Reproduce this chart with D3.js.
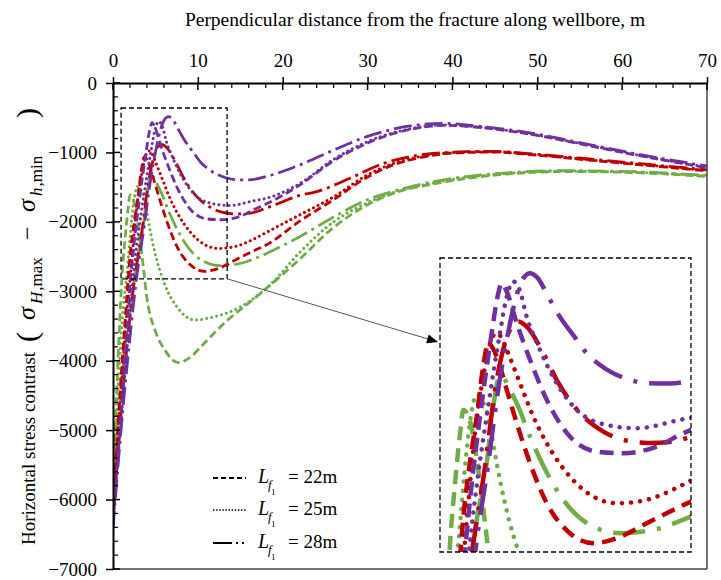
<!DOCTYPE html>
<html><head><meta charset="utf-8">
<script src="https://cdn.jsdelivr.net/npm/d3@7"></script>
<style>
body{margin:0;background:#fff}
text{font-family:"Liberation Serif","Times New Roman",serif;fill:#000}
</style>
</head><body>
<svg id="c" width="721" height="580"></svg>
<script>
// ---------- data ----------
const xTicks = [0,10,20,30,40,50,60,70];
const yTicks = [0,-1000,-2000,-3000,-4000,-5000,-6000,-7000];
const legendLabels = ["22m","25m","28m"];
const colorPurple = "#7030A0", colorRed = "#C00000", colorGreen = "#70AD47";

// purple, Lf1 = 22m (dashed)
const P22 = [[0,-6300],[0.5,-5500],[1,-4700],[1.5,-3800],[2,-2950],[2.5,-2300],[3.13,-1668],[3.92,-980],[4.3,-690],[4.6,-570],[4.95,-640],[5.62,-898],[6.52,-1200],[7.65,-1530],[9.22,-1833],[11.03,-1957],[12.83,-1970],[15.1,-1915],[16.67,-1819],[18.1,-1740],[22,-1470],[26,-1120],[29.9,-870],[35,-670],[39,-610],[43.6,-645],[49.5,-745],[55.4,-885],[61.3,-1030],[70,-1220]];
// purple, 25m (dotted)
const P25 = [[0,-6350],[0.6,-5400],[1.2,-4500],[1.8,-3600],[2.45,-2713],[3,-2150],[3.58,-1668],[4.48,-980],[4.9,-700],[5.39,-554],[5.8,-620],[6.29,-843],[7.19,-1118],[8.32,-1393],[9.68,-1613],[11.71,-1737],[13.74,-1764],[16.67,-1695],[18.1,-1660],[22,-1450],[26,-1100],[29.9,-850],[35,-660],[39,-605],[43.6,-640],[49.5,-740],[55.4,-880],[61.3,-1025],[70,-1215]];
// purple, 28m (dash-dot)
const P28 = [[0,-6420],[0.6,-5500],[1.2,-4650],[1.8,-3900],[2.4,-3200],[2.91,-2685],[3.69,-2053],[4.26,-1530],[5.16,-900],[5.72,-623],[6.1,-520],[6.52,-485],[7,-520],[7.75,-678],[8.32,-802],[9.68,-1035],[10.35,-1145],[11.26,-1242],[13.29,-1365],[14.5,-1393],[16,-1395],[18.7,-1325],[22,-1181],[26,-965],[29.9,-773],[35,-619],[38.9,-581],[43.6,-629],[49.5,-725],[55.4,-869],[61.3,-1013],[70,-1195]];
// red
const R22 = [[0,-6100],[0.5,-5100],[1,-4150],[1.5,-3300],[2,-2500],[2.5,-2000],[2.91,-1668],[3.35,-1250],[3.69,-1063],[4.26,-1173],[4.94,-1448],[5.62,-1723],[6.52,-2053],[7.65,-2383],[9.22,-2630],[10.8,-2713],[12.39,-2672],[14.42,-2548],[16.67,-2411],[18.1,-2330],[22,-1990],[26,-1680],[29.9,-1360],[33,-1180],[36,-1080],[41.7,-1000],[45,-995],[49.5,-1035],[57.4,-1125],[70,-1265]];
const R25 = [[0,-6150],[0.5,-5200],[1,-4300],[1.5,-3500],[2,-2850],[2.79,-1805],[3.47,-1255],[3.9,-1030],[4.26,-980],[4.6,-1020],[4.94,-1118],[5.84,-1393],[6.74,-1668],[7.65,-1888],[9.22,-2163],[10.8,-2328],[12.4,-2383],[14.4,-2355],[16.4,-2259],[18.1,-2150],[22,-1900],[26,-1640],[29.9,-1330],[33,-1160],[36,-1065],[41.7,-995],[45,-990],[49.5,-1030],[57.4,-1120],[70,-1260]];
const R28 = [[0,-6250],[0.6,-5300],[1.2,-4400],[1.8,-3600],[2.3,-3050],[2.68,-2713],[3.47,-2081],[4.15,-1448],[4.82,-1063],[5.28,-926],[5.72,-884],[6.29,-926],[7.42,-1145],[8.32,-1365],[9.9,-1640],[11.48,-1792],[12.83,-1860],[14.5,-1885],[16.2,-1874],[18.1,-1800],[22,-1620],[24,-1565],[28,-1368],[31.9,-1157],[36,-1040],[41.7,-989],[45,-985],[49.5,-1022],[57.4,-1109],[70,-1250]];
// green
const G22 = [[0,-5850],[0.3,-4900],[0.6,-3950],[0.9,-3150],[1.1,-2713],[1.44,-2218],[1.78,-1805],[2,-1613],[2.3,-1650],[2.68,-1833],[3.13,-2218],[3.58,-2658],[4,-3100],[4.95,-3560],[6.1,-3845],[7.7,-4028],[9,-3960],[10.5,-3780],[13,-3470],[16.7,-3100],[21.8,-2560],[26,-2080],[29.9,-1760],[33,-1590],[37.7,-1455],[45.6,-1320],[53.4,-1275],[61.3,-1290],[70,-1345]];
const G25 = [[0,-5950],[0.4,-4900],[0.8,-3950],[1.2,-3250],[1.66,-2713],[2.23,-1943],[2.6,-1600],[2.91,-1489],[3.3,-1540],[3.69,-1668],[4.26,-2053],[4.82,-2383],[6.1,-2900],[7.7,-3250],[9.6,-3413],[12,-3365],[14.8,-3240],[18.7,-2885],[22,-2440],[26,-2000],[29.9,-1730],[33,-1580],[37.7,-1440],[45.6,-1310],[53.4,-1270],[61.3,-1285],[70,-1340]];
const G28 = [[0,-6050],[0.5,-5100],[1,-4350],[1.6,-3650],[2.2,-3100],[2.8,-2600],[3.3,-2250],[3.58,-2053],[4.03,-1586],[4.48,-1324],[4.8,-1360],[5.05,-1420],[5.72,-1586],[6.52,-1833],[8.77,-2355],[10.58,-2562],[12.61,-2630],[15.32,-2589],[16.56,-2535],[22,-2213],[26,-1930],[29.9,-1685],[33,-1560],[37.7,-1421],[45.6,-1301],[53.4,-1263],[61.3,-1277],[70,-1330]];

// zoom-window (source rectangle in main chart) and inset ranges
const zoomBoxX = [0.95, 13.45], zoomBoxY = [-360, -2820];
const insetX = [0.42, 17.42], insetY = [-360, -2785];

const series = [
  {data:G22, color:colorGreen, style:"dash"},
  {data:G25, color:colorGreen, style:"dot"},
  {data:G28, color:colorGreen, style:"dashdot"},
  {data:R22, color:colorRed, style:"dash"},
  {data:R25, color:colorRed, style:"dot"},
  {data:R28, color:colorRed, style:"dashdot"},
  {data:P22, color:colorPurple, style:"dash"},
  {data:P25, color:colorPurple, style:"dot"},
  {data:P28, color:colorPurple, style:"dashdot"}
];

// ---------- drawing ----------
const svg = d3.select("#c");
const L = 113, R = 707, T = 83, B = 569;
const x = d3.scaleLinear().domain([0,70]).range([L,R]);
const y = d3.scaleLinear().domain([0,-7000]).range([T,B]);

const defs = svg.append("defs");
defs.append("clipPath").attr("id","mainClip").append("rect")
  .attr("x",L).attr("y",T).attr("width",R-L).attr("height",B-T);

const mainStyle = {
  dash:{w:2.8, da:"8 4", cap:"butt"},
  dot:{w:3, da:"0.1 5", cap:"round"},
  dashdot:{w:2.8, da:"18 5 3 5", cap:"butt"}
};
const insetStyle = {
  dash:{w:4.5, da:"14 8", cap:"butt"},
  dot:{w:4.5, da:"0.1 9", cap:"round"},
  dashdot:{w:4.5, da:"32 12 4 12", cap:"butt"}
};

const line = d3.line().x(d=>x(d[0])).y(d=>y(d[1])).curve(d3.curveMonotoneX);
const gMain = svg.append("g").attr("clip-path","url(#mainClip)");
series.forEach(s=>{
  const st = mainStyle[s.style];
  gMain.append("path").attr("d",line(s.data)).attr("fill","none")
    .attr("stroke",s.color).attr("stroke-width",st.w)
    .attr("stroke-dasharray",st.da).attr("stroke-linecap",st.cap);
});

// frame: right and bottom
svg.append("line").attr("x1",R).attr("x2",R).attr("y1",T).attr("y2",B).attr("stroke","#444").attr("stroke-width",1.5);
svg.append("line").attr("x1",L).attr("x2",R).attr("y1",B).attr("y2",B).attr("stroke","#444").attr("stroke-width",1.5);

// top axis
const gx = svg.append("g").attr("transform",`translate(0,${T})`)
  .call(d3.axisTop(x).tickValues(xTicks).tickSize(6).tickSizeOuter(0).tickPadding(10).tickFormat(d3.format("d")));
gx.select(".domain").attr("stroke","#000").attr("stroke-width",2);
gx.selectAll(".tick line").attr("stroke","#000").attr("stroke-width",1.5);
gx.selectAll("text").style("font-size","19px").style("font-family","Liberation Serif");
xTicks.forEach(v=>{
  svg.append("line").attr("x1",x(v)).attr("x2",x(v)).attr("y1",T).attr("y2",T+7).attr("stroke","#000").attr("stroke-width",1.5);
});
d3.range(0,70,2).filter(v=>v%10!==0).forEach(v=>{
  svg.append("line").attr("x1",x(v)).attr("x2",x(v)).attr("y1",T).attr("y2",T+5).attr("stroke","#000").attr("stroke-width",1.2);
});

// left axis
const gy = svg.append("g").attr("transform",`translate(${L},0)`)
  .call(d3.axisLeft(y).tickValues(yTicks).tickSize(7).tickSizeOuter(0).tickPadding(9).tickFormat(d3.format("d")));
gy.select(".domain").attr("stroke","#000").attr("stroke-width",2);
gy.selectAll(".tick line").attr("stroke","#000").attr("stroke-width",1.5);
gy.selectAll("text").style("font-size","19px").style("font-family","Liberation Serif");
yTicks.forEach(v=>{
  svg.append("line").attr("x1",L).attr("x2",L+7).attr("y1",y(v)).attr("y2",y(v)).attr("stroke","#000").attr("stroke-width",1.5);
});
d3.range(0,-7000,-200).filter(v=>v%1000!==0).forEach(v=>{
  svg.append("line").attr("x1",L).attr("x2",L+5).attr("y1",y(v)).attr("y2",y(v)).attr("stroke","#000").attr("stroke-width",1.2);
});

// title
svg.append("text").attr("x",415).attr("y",26).attr("text-anchor","middle")
  .style("font-size","19.5px").text("Perpendicular distance from the fracture along wellbore, m");

// y label
const gl = svg.append("g").attr("transform","rotate(-90)");
gl.append("text").attr("x",-545).attr("y",35).style("font-size","19px").text("Horizontal stress contrast");
gl.append("text").attr("x",-342).attr("y",37).style("font-size","30px").text("(");
gl.append("text").attr("x",-320).attr("y",35).style("font-size","26px").style("font-style","italic").text("σ");
const s1 = gl.append("text").attr("x",-304).attr("y",42).style("font-size","17px");
s1.append("tspan").style("font-style","italic").text("H");
s1.append("tspan").attr("dx",1).text(",max");
gl.append("text").attr("x",-240).attr("y",35).style("font-size","24px").text("−");
gl.append("text").attr("x",-212).attr("y",35).style("font-size","26px").style("font-style","italic").text("σ");
const s2 = gl.append("text").attr("x",-196).attr("y",42).style("font-size","17px");
s2.append("tspan").style("font-style","italic").text("h");
s2.append("tspan").attr("dx",1).text(",min");
gl.append("text").attr("x",-118).attr("y",37).style("font-size","30px").text(")");

// source rectangle
svg.append("rect")
  .attr("x",x(zoomBoxX[0])).attr("y",y(zoomBoxY[0]))
  .attr("width",x(zoomBoxX[1])-x(zoomBoxX[0])).attr("height",y(zoomBoxY[1])-y(zoomBoxY[0]))
  .attr("fill","none").attr("stroke","#000").attr("stroke-width",1.3).attr("stroke-dasharray","5 3");

// inset
const ix = d3.scaleLinear().domain(insetX).range([440,691]);
const iy = d3.scaleLinear().domain(insetY).range([258,552]);
defs.append("clipPath").attr("id","insetClip").append("rect")
  .attr("x",440).attr("y",258).attr("width",251).attr("height",294);
svg.append("rect").attr("x",440).attr("y",258).attr("width",251).attr("height",294).attr("fill","#fff");
const iline = d3.line().x(d=>ix(d[0])).y(d=>iy(d[1])).curve(d3.curveMonotoneX);
const gIn = svg.append("g").attr("clip-path","url(#insetClip)");
series.forEach(s=>{
  const st = insetStyle[s.style];
  gIn.append("path").attr("d",iline(s.data)).attr("fill","none")
    .attr("stroke",s.color).attr("stroke-width",st.w)
    .attr("stroke-dasharray",st.da).attr("stroke-linecap",st.cap);
});
svg.append("rect").attr("x",440).attr("y",258).attr("width",251).attr("height",294)
  .attr("fill","none").attr("stroke","#000").attr("stroke-width",1.3).attr("stroke-dasharray","5 3");

// arrow
const a0 = [x(zoomBoxX[1]), y(zoomBoxY[1])], a1 = [438, 342];
const dx = a1[0]-a0[0], dy = a1[1]-a0[1], len = Math.hypot(dx,dy), ux = dx/len, uy = dy/len;
svg.append("line").attr("x1",a0[0]).attr("y1",a0[1]).attr("x2",a1[0]-ux*8).attr("y2",a1[1]-uy*8)
  .attr("stroke","#555").attr("stroke-width",1);
const hl = 11, hw = 4.5;
svg.append("polygon").attr("points",[
  [a1[0],a1[1]],
  [a1[0]-ux*hl - uy*hw, a1[1]-uy*hl + ux*hw],
  [a1[0]-ux*hl + uy*hw, a1[1]-uy*hl - ux*hw]
].map(p=>p.join(",")).join(" ")).attr("fill","#000");

// legend
const legStyles = [
  {da:"5 3", w:2, cap:"butt"},
  {da:"1.5 1.6", w:1.5, cap:"butt"},
  {da:"19 4 2 4 2 20", w:2, cap:"butt"}
];
const legBase = [483, 515, 548];
legendLabels.forEach((lab,i)=>{
  const b = legBase[i];
  svg.append("line").attr("x1",213).attr("x2",246).attr("y1",b-5).attr("y2",b-5)
    .attr("stroke","#000").attr("stroke-width",legStyles[i].w).attr("stroke-dasharray",legStyles[i].da);
  svg.append("text").attr("x",258).attr("y",b).style("font-size","20px").style("font-style","italic").text("L");
  svg.append("text").attr("x",268).attr("y",b+6).style("font-size","13px").style("font-style","italic").text("f");
  svg.append("text").attr("x",271).attr("y",b+12).style("font-size","9px").text("1");
  svg.append("text").attr("x",288).attr("y",b).style("font-size","19px").text("= " + lab);
});
</script>
</body></html>
